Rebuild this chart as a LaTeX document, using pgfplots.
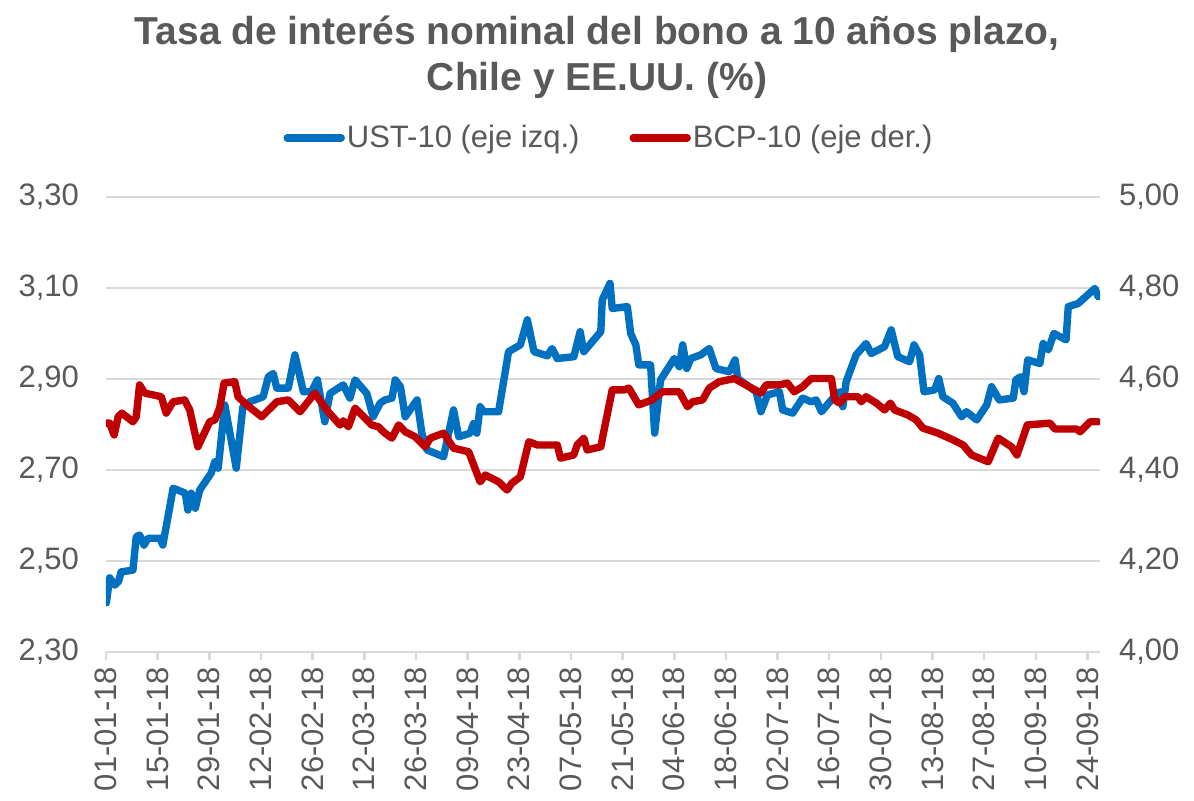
\documentclass[border=0pt]{standalone}
\usepackage{fontspec}
\setmainfont{Liberation Sans}
\usepackage{pgfplots}
\pgfplotsset{compat=1.18}
\definecolor{txtgray}{HTML}{595959}
\definecolor{gridgray}{HTML}{D9D9D9}
\definecolor{ustblue}{HTML}{0070C0}
\definecolor{bcpred}{HTML}{C00000}

\pgfplotstableread{
d v
0.1 2.408
1.0 2.463
2.4 2.447
3.4 2.455
4.1 2.476
7.3 2.480
8.2 2.553
9.1 2.557
10.3 2.535
11.4 2.550
14.6 2.550
15.4 2.535
16.8 2.597
18.2 2.660
21.5 2.649
22.2 2.612
23.1 2.649
24.2 2.616
25.4 2.656
28.5 2.693
29.5 2.718
30.4 2.704
32.2 2.843
35.3 2.704
37.1 2.839
39.0 2.850
42.6 2.861
44.0 2.905
45.3 2.912
46.3 2.880
49.4 2.880
51.2 2.953
53.5 2.872
55.7 2.872
57.3 2.898
59.3 2.806
60.7 2.868
64.3 2.887
66.1 2.858
67.5 2.898
70.7 2.868
72.4 2.817
74.3 2.847
75.6 2.854
77.5 2.858
78.4 2.898
79.8 2.883
81.1 2.817
84.3 2.854
85.6 2.781
87.0 2.744
91.5 2.729
94.2 2.832
95.6 2.773
98.7 2.781
99.6 2.802
100.5 2.781
101.4 2.839
102.4 2.828
106.4 2.828
109.1 2.960
112.3 2.975
114.2 3.030
116.0 2.960
119.6 2.951
120.9 2.967
122.3 2.945
126.8 2.949
128.5 3.004
129.5 2.960
134.1 3.004
134.5 3.074
136.6 3.110
137.2 3.055
141.3 3.059
142.2 3.000
143.6 2.975
144.4 2.931
147.6 2.931
148.7 2.781
150.3 2.898
152.6 2.927
154.0 2.945
155.4 2.927
156.3 2.975
157.4 2.923
158.5 2.945
161.2 2.953
163.5 2.967
165.3 2.923
168.9 2.916
170.5 2.942
171.2 2.901
176.2 2.872
177.5 2.828
179.3 2.865
182.5 2.872
183.4 2.832
186.1 2.825
188.8 2.858
191.1 2.850
192.5 2.854
193.9 2.828
197.0 2.858
198.8 2.872
199.7 2.839
200.6 2.894
203.3 2.953
206.0 2.978
207.4 2.956
211.0 2.971
212.8 3.008
214.6 2.949
217.8 2.938
219.0 2.975
220.5 2.953
221.7 2.872
224.6 2.876
225.7 2.901
226.8 2.861
229.5 2.847
231.9 2.817
233.2 2.828
236.0 2.810
238.7 2.843
240.0 2.883
242.1 2.854
245.9 2.858
246.6 2.898
247.9 2.905
248.8 2.872
249.8 2.942
253.1 2.934
254.0 2.978
255.4 2.964
256.9 3.000
260.2 2.986
260.8 3.059
263.5 3.066
268.0 3.099
268.9 3.081
}\ust

\pgfplotstableread{
d v
0.1 4.503
1.0 4.503
2.2 4.477
3.3 4.517
4.3 4.525
7.3 4.506
8.2 4.517
9.1 4.587
10.5 4.569
15.0 4.561
16.3 4.525
18.2 4.550
21.3 4.554
22.7 4.532
24.9 4.451
28.1 4.506
29.5 4.510
30.8 4.536
32.0 4.591
34.9 4.594
35.8 4.561
38.1 4.543
42.2 4.517
46.3 4.550
49.4 4.554
52.6 4.528
56.6 4.569
59.8 4.532
63.4 4.499
64.3 4.508
65.7 4.495
67.5 4.536
72.0 4.499
73.8 4.495
75.6 4.481
77.5 4.470
79.3 4.499
81.1 4.484
83.8 4.473
86.5 4.451
87.9 4.470
91.5 4.481
94.2 4.448
98.3 4.440
101.4 4.374
102.8 4.389
106.4 4.374
108.7 4.356
110.0 4.371
112.3 4.385
114.6 4.462
116.9 4.455
122.3 4.455
123.2 4.426
126.8 4.433
127.7 4.455
129.5 4.470
130.4 4.444
134.1 4.451
135.0 4.488
137.2 4.576
140.4 4.576
141.7 4.580
144.4 4.543
148.0 4.554
150.8 4.572
155.4 4.572
157.6 4.539
159.0 4.550
161.7 4.554
163.5 4.580
166.2 4.594
170.3 4.601
172.5 4.591
177.5 4.569
178.9 4.587
182.5 4.587
184.7 4.591
186.5 4.572
188.8 4.583
191.1 4.601
196.6 4.601
197.5 4.554
198.8 4.547
200.2 4.561
203.8 4.561
204.7 4.550
206.0 4.561
208.8 4.547
211.0 4.532
212.6 4.547
213.7 4.532
217.3 4.521
219.6 4.510
221.4 4.492
225.5 4.481
227.7 4.473
229.6 4.466
232.3 4.455
234.6 4.433
239.1 4.418
241.8 4.470
245.4 4.451
246.9 4.433
249.7 4.499
255.8 4.503
257.2 4.490
263.1 4.490
264.0 4.484
266.7 4.506
268.9 4.506
}\bcp

\begin{document}
\begin{tikzpicture}
\pgfplotsset{
  common/.style={
    width=497pt, height=227.5pt, scale only axis,
    xmin=0, xmax=269.4,
    /pgf/number format/assume math mode=true,
    /pgf/number format/.cd, fixed, fixed zerofill, precision=2, use comma, /pgfplots/.cd,
    tick label style={text=txtgray, font=\fontsize{15.5}{18}\selectfont},
    ytick style={draw=none},
    every axis plot/.append style={line width=3.7pt, line join=round, line cap=round},
  }
}
\begin{axis}[common,
  ymin=2.3, ymax=3.3,
  ytick={2.3,2.5,2.7,2.9,3.1,3.3},
  axis x line*=bottom, axis y line*=left,
  y axis line style={draw=none},
  x axis line style={gridgray, line width=1.3pt, -},
  xtick={0,14,...,266},
  xticklabels={01-01-18,15-01-18,29-01-18,12-02-18,26-02-18,12-03-18,26-03-18,09-04-18,23-04-18,07-05-18,21-05-18,04-06-18,18-06-18,02-07-18,16-07-18,30-07-18,13-08-18,27-08-18,10-09-18,24-09-18},
  xticklabel style={rotate=90, anchor=east, /pgf/number format/assume math mode=true},
  xtick style={gridgray, line width=1.3pt},
  tick align=outside, major tick length=4pt,
  yticklabel style={xshift=-6pt},
  ymajorgrids, grid style={gridgray, line width=1pt},
  title={Tasa de interés nominal del bono a 10 años plazo,\\Chile y EE.UU. (\%)},
  title style={at={(0.494,1.281)}, anchor=center, align=center, text=txtgray,
    font=\bfseries\fontsize{19.5}{23}\selectfont},
]
\addplot[ustblue] table[x=d,y=v]{\ust};
\end{axis}
\begin{axis}[common,
  ymin=4, ymax=5,
  ytick={4,4.2,4.4,4.6,4.8,5},
  axis y line*=right, axis x line=none,
  y axis line style={draw=none},
  yticklabel style={xshift=6pt},
  legend columns=2,
  legend style={at={(0.506,1.13)}, anchor=center, draw=none, fill=none,
    text=txtgray, font=\fontsize{15.5}{18}\selectfont,
    /tikz/every even column/.append style={column sep=24pt},
    nodes={inner sep=1pt}},
  legend image code/.code={\draw[#1, line cap=round] (0pt,0pt) -- (27pt,0pt);},
]
\addlegendimage{ustblue, line width=3.7pt}
\addlegendentry{UST-10 (eje izq.)}
\addplot[bcpred] table[x=d,y=v]{\bcp};
\addlegendentry{BCP-10 (eje der.)}
\end{axis}
\pgfresetboundingbox
\path[use as bounding box] (-53pt,-74.5pt) rectangle (544pt,326pt);
\end{tikzpicture}
\end{document}
